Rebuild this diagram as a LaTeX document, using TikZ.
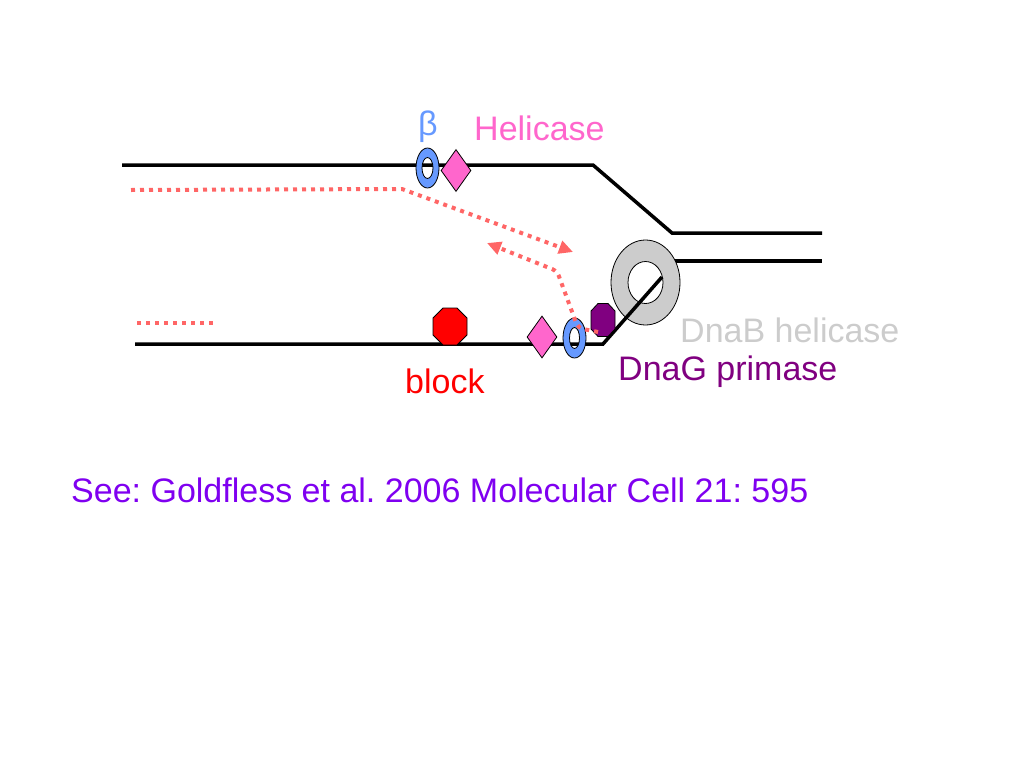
\documentclass[tikz,border=0pt]{standalone}
\usepackage{fontspec}
\setmainfont{Liberation Sans}
\usetikzlibrary{arrows.meta,shapes.geometric}
\definecolor{helipink}{HTML}{FF66CC}
\definecolor{clampblue}{HTML}{6699FF}
\definecolor{dnabgray}{HTML}{CCCCCC}
\definecolor{primpurple}{HTML}{800080}
\definecolor{primersalmon}{HTML}{FF6666}
\definecolor{refviolet}{HTML}{7F00F0}
\frenchspacing

\begin{document}
\begin{tikzpicture}[x=1pt,y=-1pt,
    strand/.style={line width=3.5pt},
    primer/.style={draw=primersalmon, line width=4pt, dash pattern=on 4pt off 5pt},
    primerarrow/.style={primer, -{Triangle[length=14pt,width=13pt,fill=primersalmon]}},
    txt/.style={inner sep=0pt, anchor=base west, font=\fontsize{34}{40}\selectfont},
    clamp/.style={fill=clampblue, draw=black, line width=0.8pt, even odd rule},
    helicase/.style={diamond, fill=helipink, draw=black, line width=0.8pt,
        inner sep=0pt, minimum width=30pt, minimum height=42pt},
    blocker/.style={draw=black, line width=0.8pt},
  ]
  \useasboundingbox (0,0) rectangle (1024,768);
  % DNA strands
  \draw[strand] (122,165) -- (593,165) -- (672,233) -- (822,233);
  \draw[strand] (660,261) -- (822,261);
  % DnaB ring
  \coordinate (dnab) at (645.5,282.5);
  \fill[fill=dnabgray, draw=black, line width=0.8pt, even odd rule]
    (dnab) ellipse [x radius=34.5, y radius=42.5]
    (dnab) ellipse [x radius=17.5, y radius=21];
  \draw[strand] (135,344) -- (603,344) -- (662,277);
  % Proteins
  \node[helicase] (heltop) at (456,170.5) {};
  \node[helicase] (helbot) at (542,337) {};
  \coordinate (block) at (450,326.5);
  \fill[blocker, fill=red, shift={(block)}]
    (-7,-18.5) -- (7,-18.5) -- (17,-8.5) -- (17,8.5) -- (7,18.5)
    -- (-7,18.5) -- (-17,8.5) -- (-17,-8.5) -- cycle;
  \coordinate (dnag) at (603,320);
  \fill[blocker, fill=primpurple, shift={(dnag)}]
    (-5,-16.5) -- (5,-16.5) -- (12,-9) -- (12,9) -- (5,16.5)
    -- (-5,16.5) -- (-12,9) -- (-12,-9) -- cycle;
  \coordinate (betatop) at (427.5,168);
  \coordinate (betabot) at (574.5,338);
  \fill[clamp] (betatop) ellipse [x radius=11.5, y radius=20]
    (betatop) ellipse [x radius=5.5, y radius=10.5];
  \fill[clamp] (betabot) ellipse [x radius=11.5, y radius=20]
    (betabot) ellipse [x radius=5, y radius=10.5];
  % Primers
  \coordinate (p1) at (131,190);
  \coordinate (p2) at (402,189);
  \coordinate (p3) at (573,252);
  \draw[primerarrow] (p1) -- (p2) -- (p3);
  \coordinate (q1) at (598,332);
  \coordinate (q2) at (578,328);
  \coordinate (q3) at (557,271);
  \coordinate (q4) at (487,243);
  \draw[primerarrow, rounded corners=5pt] (q1) -- (q2) -- (q3) -- (q4);
  \coordinate (r1) at (137,323);
  \coordinate (r2) at (215,323);
  \draw[primer] (r1) -- (r2);
  % Labels
  \node[txt, text=clampblue] (betalabel) at (418,135) {β};
  \node[txt, text=helipink] (hellabel) at (474,140) {Helicase};
  \node[txt, text=dnabgray] (dnablabel) at (680,342) {DnaB helicase};
  \node[txt, text=primpurple] (dnaglabel) at (618,380) {DnaG primase};
  \node[txt, text=red] (blocklabel) at (405,393) {block};
  \node[txt, text=refviolet] (ref) at (71,502) {See: Goldfless et al. 2006 Molecular Cell 21: 595};
\end{tikzpicture}
\end{document}
